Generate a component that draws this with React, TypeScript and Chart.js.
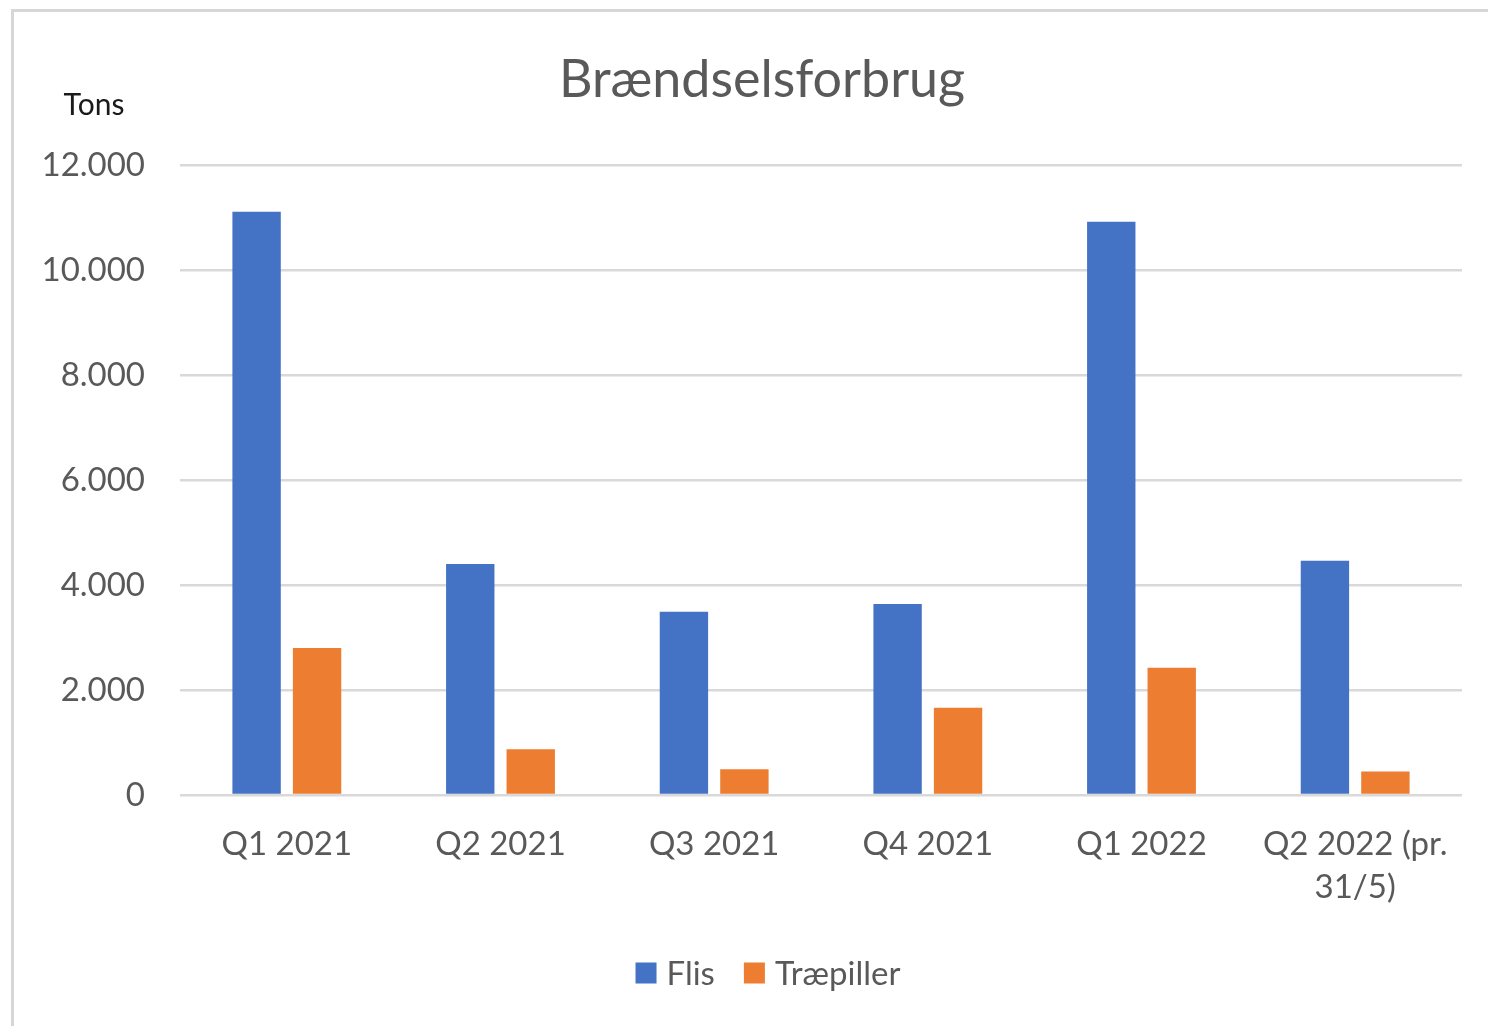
import React, { useEffect, useRef } from "react";
import { Chart, registerables } from "chart.js";

Chart.register(...registerables);

const chartTitle = "Brændselsforbrug";
const unitLabel = "Tons";
const categories: (string | string[])[] = [
  "Q1 2021",
  "Q2 2021",
  "Q3 2021",
  "Q4 2021",
  "Q1 2022",
  ["Q2 2022 (pr.", "31/5)"],
];
const seriesNames = ["Flis", "Træpiller"];
const flisValues = [11110, 4400, 3490, 3640, 10920, 4460];
const traepillerValues = [2800, 870, 490, 1660, 2425, 450];
const yTickValues = [0, 2000, 4000, 6000, 8000, 10000, 12000];
const yTickLabels = ["0", "2.000", "4.000", "6.000", "8.000", "10.000", "12.000"];

const FONT = "Lato, 'Open Sans', sans-serif";
const TEXT_GREY = "#595959";

export default function App() {
  const canvasRef = useRef<HTMLCanvasElement | null>(null);

  useEffect(() => {
    const canvas = canvasRef.current;
    if (!canvas) return;

    const decorPlugin = {
      id: "decor",
      afterDraw(chart: any) {
        const ctx = chart.ctx;
        const y = chart.scales.y;
        const topPx = y.getPixelForValue(12000);
        const bottomPx = y.getPixelForValue(0);
        ctx.save();

        // unit label
        ctx.font = `30px ${FONT}`;
        ctx.fillStyle = "#1a1a1a";
        ctx.textAlign = "center";
        ctx.textBaseline = "middle";
        ctx.fillText(unitLabel, y.right - 86, topPx - 60);

        // title
        ctx.font = `52px ${FONT}`;
        ctx.fillStyle = TEXT_GREY;
        ctx.textAlign = "center";
        ctx.textBaseline = "alphabetic";
        ctx.fillText(chartTitle, chart.width / 2 + 18, topPx - 68);

        // legend
        ctx.font = `33px ${FONT}`;
        const box = 21;
        const gap = 10;
        const itemGap = 29;
        const items = chart.data.datasets.map((ds: any) => ({
          label: ds.label,
          color: ds.backgroundColor,
          w: box + gap + ctx.measureText(ds.label).width,
        }));
        const total = items.reduce((s: number, it: any) => s + it.w, 0) + itemGap * (items.length - 1);
        let x = chart.width / 2 + 24 - total / 2;
        const cy = bottomPx + 178;
        ctx.textAlign = "left";
        ctx.textBaseline = "middle";
        for (const it of items) {
          ctx.fillStyle = it.color;
          ctx.fillRect(x, cy - box / 2, box, box);
          ctx.fillStyle = TEXT_GREY;
          ctx.fillText(it.label, x + box + gap, cy + 1);
          x += it.w + itemGap;
        }
        ctx.restore();
      },
    };

    const chart = new Chart(canvas, {
      type: "bar",
      data: {
        labels: categories,
        datasets: [
          {
            label: seriesNames[0],
            data: flisValues,
            backgroundColor: "#4472C4",
            categoryPercentage: 0.566,
            barPercentage: 0.8,
          },
          {
            label: seriesNames[1],
            data: traepillerValues,
            backgroundColor: "#ED7D31",
            categoryPercentage: 0.566,
            barPercentage: 0.8,
          },
        ],
      },
      options: {
        animation: false,
        responsive: false,
        maintainAspectRatio: false,
        layout: { padding: { left: 0, right: 26, top: 165, bottom: 81 } },
        plugins: {
          title: { display: false },
          legend: { display: false },
          tooltip: { enabled: false },
        },
        scales: {
          x: {
            grid: { display: false, drawTicks: false },
            border: { display: false },
            ticks: {
              color: TEXT_GREY,
              font: { family: FONT, size: 33, lineHeight: 1.3 },
              padding: 28,
              maxRotation: 0,
              autoSkip: false,
            },
            afterFit(scale: any) {
              scale.height = 150;
            },
          },
          y: {
            min: 0,
            max: 12000,
            grid: { color: "#d9d9d9", lineWidth: 2.5, drawTicks: false },
            border: { display: false },
            afterBuildTicks(scale: any) {
              scale.ticks = yTickValues.map((v) => ({ value: v }));
            },
            ticks: {
              color: TEXT_GREY,
              font: { family: FONT, size: 33 },
              padding: 35,
              callback: (value: any) => {
                const i = yTickValues.indexOf(Number(value));
                return i >= 0 ? yTickLabels[i] : "";
              },
            },
            afterFit(scale: any) {
              scale.width = 180;
            },
          },
        },
      },
      plugins: [decorPlugin],
    } as any);

    return () => chart.destroy();
  }, []);

  return (
    <div style={{ position: "fixed", left: 0, top: 0, width: 1488, height: 1026, overflow: "hidden", background: "#fff" }}>
      <div
        style={{
          position: "absolute",
          left: 11,
          top: 9,
          width: 1600,
          height: 1200,
          border: "3px solid #d6d6d6",
          boxSizing: "border-box",
        }}
      />
      <canvas ref={canvasRef} width={1488} height={1026} style={{ position: "absolute", left: 0, top: 0, width: 1488, height: 1026 }} />
    </div>
  );
}
